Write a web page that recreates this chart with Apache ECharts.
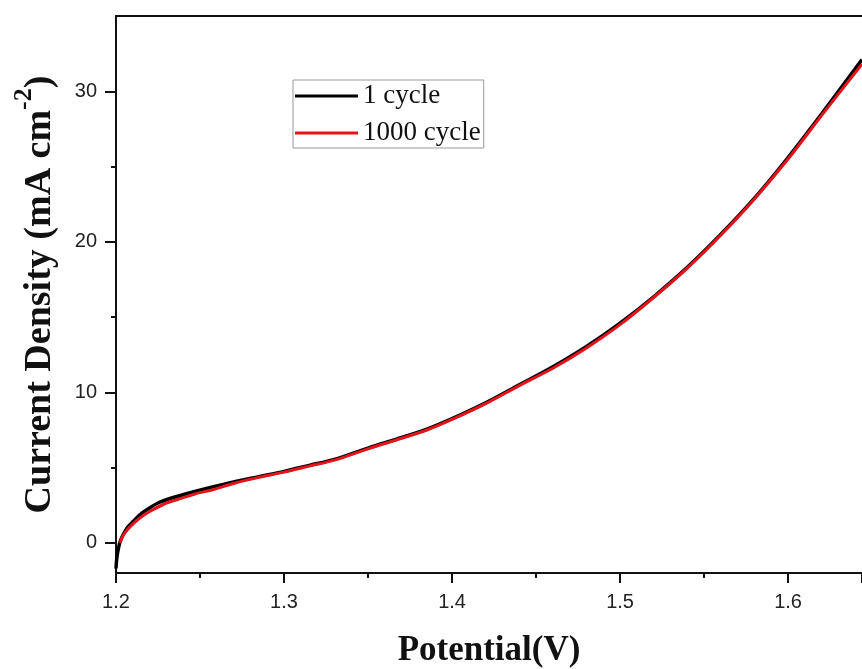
<!DOCTYPE html>
<html>
<head>
<meta charset="utf-8">
<script src="https://cdn.jsdelivr.net/npm/echarts@6/dist/echarts.min.js"></script>
<style>html,body{margin:0;padding:0;background:#fff;}#c{width:862px;height:669px;}</style>
</head>
<body>
<div id="c"></div>
<script>
const seriesNames = ['1 cycle', '1000 cycle'];
const xTickStep = 0.1;
const yTicks = [0, 10, 20, 30];
const yMinorTicks = [5, 15, 25];

const cycle1X = [1.2000,1.2004,1.2012,1.2025,1.2045,1.207,1.210,1.214,1.219,1.225,1.233,1.243,1.255,1.27,1.285,1.30,1.315,1.33,1.35,1.37,1.385,1.40,1.42,1.44,1.46,1.48,1.50,1.52,1.54,1.56,1.58,1.60,1.62,1.644];
const cycle1Y = [-1.7,-1.1,-0.5,0.1,0.6,1.05,1.4,1.85,2.25,2.65,2.98,3.3,3.65,4.05,4.4,4.75,5.15,5.55,6.3,7.0,7.55,8.25,9.3,10.5,11.7,13.05,14.6,16.35,18.3,20.5,22.9,25.6,28.5,32.1];

const cycle1000X = [1.2024,1.204,1.207,1.211,1.216,1.222,1.229,1.237,1.247,1.258,1.27,1.285,1.30,1.315,1.33,1.35,1.37,1.385,1.40,1.42,1.44,1.46,1.48,1.50,1.52,1.54,1.56,1.58,1.60,1.62,1.644];
const cycle1000Y = [0.0,0.45,0.9,1.35,1.8,2.2,2.6,2.9,3.25,3.55,3.95,4.35,4.7,5.1,5.5,6.25,6.95,7.5,8.2,9.25,10.45,11.6,12.95,14.5,16.3,18.25,20.45,22.85,25.5,28.4,31.8];

const pairs = (xs, ys) => xs.map((x, i) => [x, ys[i]]);

const X_MIN = 1.2, X_MAX = 1.644, Y_MIN = -2, Y_MAX = 35;
const tickFont = { fontFamily: 'Liberation Sans', fontSize: 20, color: '#222' };
const blackLine = { show: true, onZero: false, lineStyle: { color: '#111', width: 2 } };

const chart = echarts.init(document.getElementById('c'), null, { renderer: 'canvas' });
chart.setOption({
  animation: false,
  backgroundColor: '#fff',
  grid: { left: 116, top: 16, right: 0, bottom: 96, containLabel: false, outerBoundsMode: 'none' },
  legend: {
    orient: 'vertical',
    left: 293, top: 80,
    padding: [1, 3, 0, 2],
    itemGap: 7,
    itemWidth: 63, itemHeight: 3,
    icon: 'rect',
    borderColor: '#999', borderWidth: 1,
    textStyle: { fontFamily: 'Liberation Serif', fontSize: 27, color: '#111', lineHeight: 30 },
    data: seriesNames
  },
  xAxis: [
    {
      type: 'value', position: 'bottom', min: X_MIN, max: X_MAX, interval: xTickStep,
      axisLine: blackLine,
      axisTick: { show: true, inside: false, length: 10, lineStyle: { color: '#111', width: 2 } },
      minorTick: { show: true, splitNumber: 2, length: 5, lineStyle: { color: '#111', width: 2 } },
      axisLabel: Object.assign({ margin: 19, showMaxLabel: false,
        formatter: v => (Math.abs(v * 10 - Math.round(v * 10)) < 1e-6 ? v.toFixed(1) : '') }, tickFont),
      splitLine: { show: false },
      name: 'Potential(V)', nameLocation: 'middle', nameGap: 60,
      nameTextStyle: { fontFamily: 'Liberation Serif', fontWeight: 'bold', fontSize: 35, color: '#111' }
    },
    {
      type: 'value', position: 'top', min: X_MIN, max: X_MAX,
      axisLine: blackLine, axisTick: { show: false }, axisLabel: { show: false }, splitLine: { show: false }
    }
  ],
  yAxis: [
    {
      type: 'value', position: 'left', min: Y_MIN, max: Y_MAX,
      axisLine: blackLine,
      axisTick: { show: true, length: 11, lineStyle: { color: '#111', width: 2 }, customValues: yTicks },
      axisLabel: Object.assign({ margin: 19, customValues: yTicks }, tickFont),
      splitLine: { show: false },
      name: '{a|Current Density (mA cm}{s|-2}{a|)}', nameLocation: 'middle', nameGap: 57, nameRotate: 90,
      nameTextStyle: {
        rich: {
          a: { fontFamily: 'Liberation Serif', fontWeight: 'bold', fontSize: 38, color: '#111', lineHeight: 48, verticalAlign: 'bottom' },
          s: { fontFamily: 'Liberation Serif', fontWeight: 'bold', fontSize: 26, color: '#111', lineHeight: 26, verticalAlign: 'top' }
        }
      }
    },
    {
      type: 'value', position: 'left', min: Y_MIN, max: Y_MAX,
      axisLine: { show: false, onZero: false },
      axisTick: { show: true, length: 5, lineStyle: { color: '#111', width: 2 }, customValues: yMinorTicks },
      axisLabel: { show: false }, splitLine: { show: false }
    }
  ],
  series: [
    {
      name: seriesNames[0], type: 'line', xAxisIndex: 0, yAxisIndex: 0,
      data: pairs(cycle1X, cycle1Y),
      showSymbol: false, symbol: 'none', smooth: 0.3,
      lineStyle: { color: '#000', width: 3.5 }, itemStyle: { color: '#000' }
    },
    {
      name: seriesNames[1], type: 'line', xAxisIndex: 0, yAxisIndex: 0,
      data: pairs(cycle1000X, cycle1000Y),
      showSymbol: false, symbol: 'none', smooth: 0.3,
      lineStyle: { color: '#e3141b', width: 3 }, itemStyle: { color: '#e3141b' }
    }
  ]
});
</script>
</body>
</html>
